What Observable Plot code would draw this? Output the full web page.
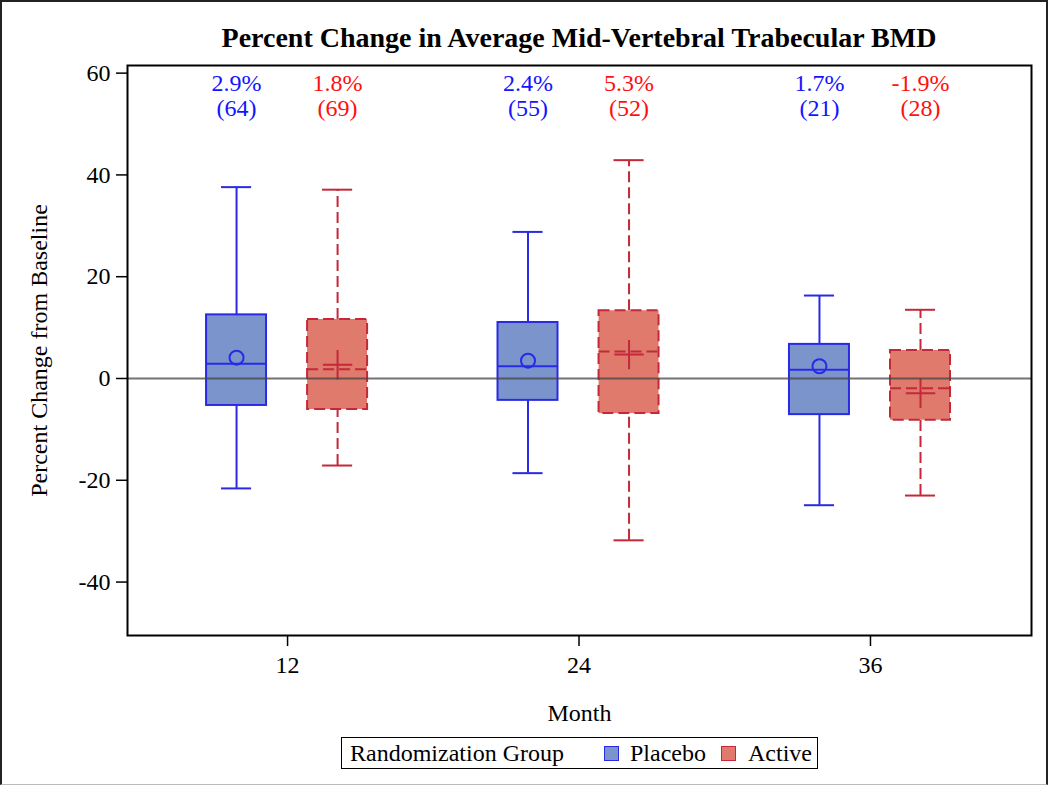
<!DOCTYPE html>
<html><head><meta charset="utf-8">
<script src="https://cdn.jsdelivr.net/npm/d3@7"></script>
<script src="https://cdn.jsdelivr.net/npm/@observablehq/plot@0.6"></script>
<style>
body{margin:0;background:#fff;}
#page{position:relative;width:1050px;height:788px;overflow:hidden;font-family:"Liberation Serif","Times New Roman",serif;color:#000;}
#chart{position:absolute;left:0;top:0;}
#border{position:absolute;left:0;top:0;width:1048px;height:785px;border-left:2px solid #222;border-right:2px solid #222;border-top:2px solid #222;border-bottom:1px solid #bbb;box-sizing:border-box;pointer-events:none;}
#title{position:absolute;left:127px;width:904px;top:21px;text-align:center;font-weight:bold;font-size:28px;line-height:34px;}
#legend{position:absolute;left:341px;top:737px;width:477px;height:32px;border:1.5px solid #000;box-sizing:border-box;font-size:24px;}
#legend span{position:absolute;top:1px;line-height:28px;white-space:nowrap;}
#legend i{position:absolute;top:8px;width:13px;height:13px;}
</style></head>
<body>
<div id="page">
  <div id="chart"></div>
  <div id="title">Percent Change in Average Mid-Vertebral Trabecular BMD</div>
  <div id="legend">
    <span style="left:8px">Randomization Group</span>
    <i style="left:262px;background:#7b94cc;border:1.5px solid #2a2ae6"></i>
    <span style="left:288px">Placebo</span>
    <i style="left:379px;background:#df7a6d;border:1.5px solid #c4283a"></i>
    <span style="left:406px">Active</span>
  </div>
  <div id="border"></div>
</div>
<script>
const months = [12, 24, 36];
const groups = ["Placebo", "Active"];

const placeboMin    = [-21.6, -18.6, -24.9];
const placeboQ1     = [-5.3, -4.3, -7.1];
const placeboMedian = [2.9, 2.4, 1.7];
const placeboQ3     = [12.5, 11.0, 6.7];
const placeboMax    = [37.6, 28.8, 16.3];
const placeboMean   = [4.1, 3.5, 2.4];
const placeboN      = [64, 55, 21];

const activeMin    = [-17.1, -31.8, -23.0];
const activeQ1     = [-6.1, -6.9, -8.2];
const activeMedian = [1.8, 5.3, -1.9];
const activeQ3     = [11.6, 13.3, 5.5];
const activeMax    = [37.1, 42.9, 13.5];
const activeMean   = [2.7, 4.7, -2.9];
const activeN      = [69, 52, 28];

const yTicks = [-40, -20, 0, 20, 40, 60];

function build(group, mn, q1, med, q3, mx, mean, n) {
  return months.map((m, i) => ({group, month: m, min: mn[i], q1: q1[i], median: med[i], q3: q3[i], max: mx[i], mean: mean[i], n: n[i]}));
}
const placebo = build("Placebo", placeboMin, placeboQ1, placeboMedian, placeboQ3, placeboMax, placeboMean, placeboN);
const active = build("Active", activeMin, activeQ1, activeMedian, activeQ3, activeMax, activeMean, activeN);

const style = {
  Placebo: {off: -2.1, stroke: "#2a2ae6", fill: "#7b94cc", dash: null, label: "#1414ff", symbol: "circle", r: 7},
  Active:  {off: 2.06, stroke: "#c4283a", fill: "#df7a6d", dash: "11,5", label: "#ff1010", symbol: "plus", r: 9.5}
};
const hw = 1.235, cap = 0.62;

function groupMarks(data) {
  const s = style[data[0].group];
  const cx = d => d.month + s.off;
  const dashOpt = s.dash ? {strokeDasharray: s.dash} : {};
  return [
    Plot.ruleX(data, {x: cx, y1: "q3", y2: "max", stroke: s.stroke, strokeWidth: 2, ...dashOpt}),
    Plot.ruleX(data, {x: cx, y1: "min", y2: "q1", stroke: s.stroke, strokeWidth: 2, ...dashOpt}),
    Plot.ruleY(data, {y: "max", x1: d => cx(d) - cap, x2: d => cx(d) + cap, stroke: s.stroke, strokeWidth: 2}),
    Plot.ruleY(data, {y: "min", x1: d => cx(d) - cap, x2: d => cx(d) + cap, stroke: s.stroke, strokeWidth: 2}),
    Plot.rect(data, {x1: d => cx(d) - hw, x2: d => cx(d) + hw, y1: "q1", y2: "q3", fill: s.fill, stroke: s.stroke, strokeWidth: 2, ...dashOpt}),
    Plot.ruleY(data, {y: "median", x1: d => cx(d) - hw, x2: d => cx(d) + hw, stroke: s.stroke, strokeWidth: 2, ...dashOpt}),
    Plot.dot(data, {x: cx, y: "mean", symbol: s.symbol, r: s.r, fill: "none", stroke: s.stroke, strokeWidth: 2}),
    Plot.text(data, {x: cx, text: d => d.median.toFixed(1) + "%", frameAnchor: "top", lineAnchor: "middle", dy: 18, fill: s.label, fontSize: 24}),
    Plot.text(data, {x: cx, text: d => "(" + d.n + ")", frameAnchor: "top", lineAnchor: "middle", dy: 43, fill: s.label, fontSize: 24})
  ];
}

const chart = Plot.plot({
  width: 1050,
  height: 788,
  marginLeft: 127,
  marginRight: 19,
  marginTop: 65,
  marginBottom: 153,
  style: {fontFamily: "Liberation Serif, Times New Roman, serif", fontSize: "24px", color: "#000", background: "transparent"},
  x: {type: "linear", domain: [5.41, 42.63]},
  y: {domain: [-50.5, 61.5]},
  marks: [
    ...groupMarks(placebo),
    ...groupMarks(active),
    Plot.ruleY([0], {stroke: "#444", strokeOpacity: 0.75, strokeWidth: 2}),
    Plot.frame({stroke: "#000", strokeWidth: 2}),
    Plot.axisY({ticks: yTicks, tickSize: 11, tickPadding: 6, tickFormat: d => d, label: null, fontSize: 24, strokeWidth: 1.5}),
    Plot.axisX({ticks: months, tickSize: 11, tickPadding: 9, tickFormat: d => d, label: null, fontSize: 24, strokeWidth: 1.5}),
    Plot.text(["Percent Change from Baseline"], {frameAnchor: "left", textAnchor: "middle", rotate: -90, dx: -88, lineAnchor: "middle", fontSize: 24}),
    Plot.text(["Month"], {frameAnchor: "bottom", lineAnchor: "middle", dy: 78, fontSize: 24})
  ]
});
document.getElementById("chart").appendChild(chart);
</script>
</body></html>
